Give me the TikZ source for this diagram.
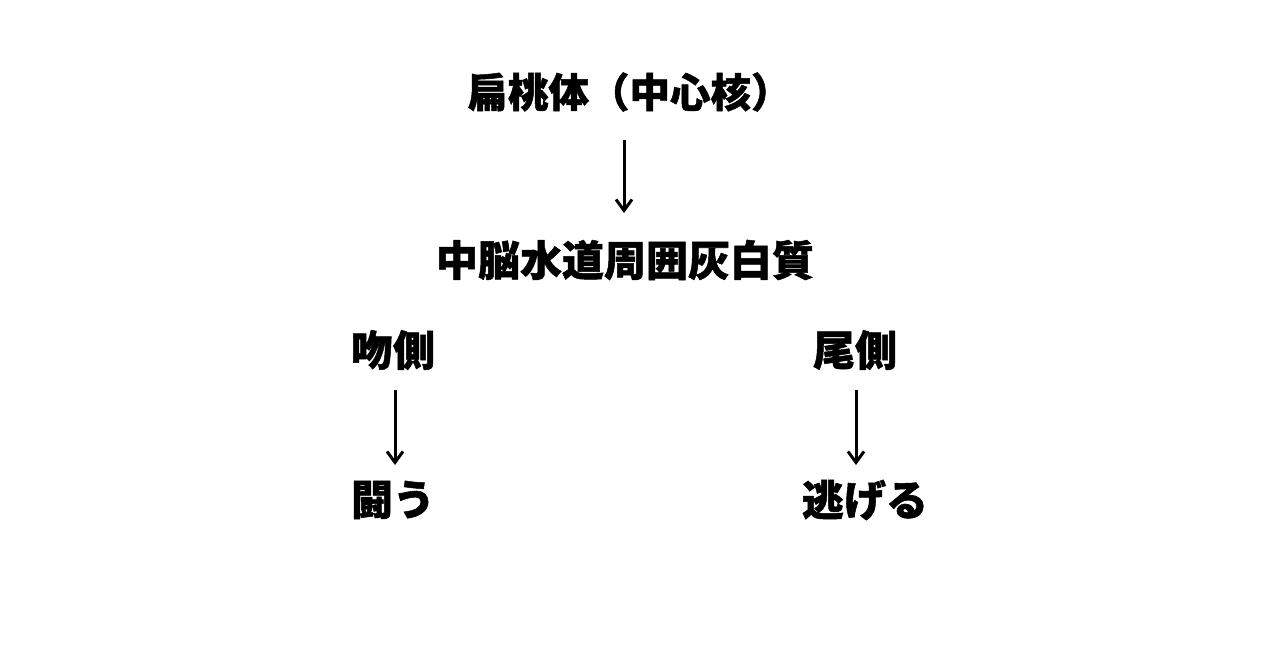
\documentclass[tikz,border=0pt]{standalone}
\usepackage{fontspec}
\newfontfamily\cjk{Noto Sans CJK JP}[BoldFeatures={FakeBold=1.2}]
\usetikzlibrary{arrows.meta}
\tikzset{
  lbl/.style={font=\cjk\bfseries\fontsize{42}{46}\selectfont, inner sep=0pt, anchor=center},
  toplbl/.style={lbl, font=\cjk\bfseries\fontsize{40.5}{44}\selectfont},
  conn/.style={line width=3pt, -{Straight Barb[length=11pt,width=16pt,line width=3pt]}}
}
\begin{document}
\begin{tikzpicture}[x=1pt,y=-1pt]
\useasboundingbox[fill=white] (0,0) rectangle (1280,670);
\node[toplbl] (amy) at (629.5,92) {扁桃体（中心核）};
\node[lbl] (pag) at (625,260) {中脳水道周囲灰白質};
\node[lbl] (ros) at (393,350) {吻側};
\node[lbl] (cau) at (855,350) {尾側};
\node[lbl] (fig) at (393,500) {闘う};
\node[lbl] (fle) at (865,500) {逃げる};
\coordinate (a1s) at (624,140); \coordinate (a1e) at (624,213);
\coordinate (a2s) at (395,390); \coordinate (a2e) at (395,465);
\coordinate (a3s) at (856,390); \coordinate (a3e) at (856,465);
\draw[conn] (a1s) -- (a1e);
\draw[conn] (a2s) -- (a2e);
\draw[conn] (a3s) -- (a3e);
\end{tikzpicture}
\end{document}
